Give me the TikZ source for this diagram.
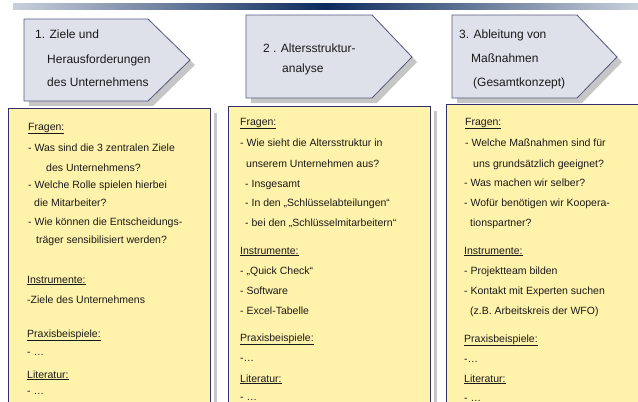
\documentclass[tikz,border=0pt]{standalone}
\usepackage{fontspec}
\setmainfont{Liberation Sans}
\definecolor{barlight}{HTML}{C9D0DC}
\definecolor{bardark}{HTML}{0B2A5C}
\definecolor{phasefill}{HTML}{DEE0EA}
\definecolor{phaseline}{HTML}{58587C}
\definecolor{cardfill}{HTML}{FFF2AA}
\definecolor{cardline}{HTML}{30306C}
\definecolor{shadowgray}{HTML}{C6C6C6}
\definecolor{ink}{HTML}{1A1A1A}
\tikzset{
phase/.style={fill=phasefill, draw=phaseline, line width=0.8pt},
card/.style={fill=cardfill, draw=cardline, line width=0.9pt},
dropshadow/.style={fill=shadowgray},
headtext/.style={anchor=base west, inner sep=0pt, text=ink, font=\fontsize{12}{14}\selectfont},
bodytext/.style={anchor=base west, inner sep=0pt, text=ink, font=\fontsize{10.5}{12}\selectfont},
}

\begin{document}
\begin{tikzpicture}[x=1pt, y=-1pt]
\useasboundingbox (0,0) rectangle (638,402);
\clip (0,0) rectangle (638,402);
% top bar
\shade[left color=barlight, right color=bardark] (13,3) rectangle (326,9);
\shade[left color=bardark, right color=barlight] (325,3) rectangle (638,9);
% phase arrows
\fill[dropshadow] (29,24) -- (153,24) -- (195,65) -- (153,106) -- (29,106) -- cycle;
\fill[dropshadow] (251,20) -- (377,20) -- (417,62) -- (377,103) -- (251,103) -- cycle;
\fill[dropshadow] (457,20) -- (582,20) -- (622,62) -- (582,103) -- (457,103) -- cycle;
\draw[phase] (24,19) -- (148,19) -- (190,60) -- (148,101) -- (24,101) -- cycle;
\draw[phase] (246,15) -- (372,15) -- (412,57) -- (372,98) -- (246,98) -- cycle;
\draw[phase] (452,15) -- (577,15) -- (617,57) -- (577,98) -- (452,98) -- cycle;
% cards
\fill[dropshadow] (214,113) rectangle (217,410);
\fill[dropshadow] (434,111) rectangle (437,410);
\draw[card] (8,108) rectangle (210,410);
\draw[card] (228,106) rectangle (430,410);
\draw[card] (446,104) rectangle (650,410);

% headings
\node[headtext] (h1a) at (35,38) {1. Ziele und};
\node[headtext] (h1b) at (47,63) {Herausforderungen};
\node[headtext] (h1c) at (47,86) {des Unternehmens};
\node[headtext] (h2a) at (263,52) {2 . Altersstruktur-};
\node[headtext] (h2b) at (282,72) {analyse};
\node[headtext] (h3a) at (459,38) {3. Ableitung von};
\node[headtext] (h3b) at (471,62) {Maßnahmen};
\node[headtext] (h3c) at (473,86) {(Gesamtkonzept)};

% card 1
\node[bodytext] (t1a) at (28,130) {\underline{Fragen:}};
\node[bodytext] (t1b) at (28,151) {- Was sind die 3 zentralen Ziele};
\node[bodytext] (t1c) at (46,171) {des Unternehmens?};
\node[bodytext] (t1d) at (28,188) {- Welche Rolle spielen hierbei};
\node[bodytext] (t1e) at (34,206) {die Mitarbeiter?};
\node[bodytext] (t1f) at (28,225) {- Wie können die Entscheidungs-};
\node[bodytext] (t1g) at (36,243) {träger sensibilisiert werden?};
\node[bodytext] (t1h) at (27,283) {\underline{Instrumente:}};
\node[bodytext] (t1i) at (27,303) {-Ziele des Unternehmens};
\node[bodytext] (t1j) at (27,337) {\underline{Praxisbeispiele:}};
\node[bodytext] (t1k) at (27,355) {- …};
\node[bodytext] (t1l) at (27,378) {\underline{Literatur:}};
\node[bodytext] (t1m) at (27,394) {- …};

% card 2
\node[bodytext] (t2a) at (240,125) {\underline{Fragen:}};
\node[bodytext] (t2b) at (240,146) {- Wie sieht die Altersstruktur in};
\node[bodytext] (t2c) at (246,167) {unserem Unternehmen aus?};
\node[bodytext] (t2d) at (245,187) {- Insgesamt};
\node[bodytext] (t2e) at (245,206) {- In den „Schlüsselabteilungen“};
\node[bodytext] (t2f) at (245,226) {- bei den „Schlüsselmitarbeitern“};
\node[bodytext] (t2g) at (240,254) {\underline{Instrumente:}};
\node[bodytext] (t2h) at (240,274) {- „Quick Check“};
\node[bodytext] (t2i) at (240,294) {- Software};
\node[bodytext] (t2j) at (240,314) {- Excel-Tabelle};
\node[bodytext] (t2k) at (240,341) {\underline{Praxisbeispiele:}};
\node[bodytext] (t2l) at (240,361) {-…};
\node[bodytext] (t2m) at (240,382) {\underline{Literatur:}};
\node[bodytext] (t2n) at (240,400) {- …};

% card 3
\node[bodytext] (t3a) at (465,125) {\underline{Fragen:}};
\node[bodytext] (t3b) at (465,146) {- Welche Maßnahmen sind für};
\node[bodytext] (t3c) at (473,167) {uns grundsätzlich geeignet?};
\node[bodytext] (t3d) at (464,186) {- Was machen wir selber?};
\node[bodytext] (t3e) at (464,206) {- Wofür benötigen wir Koopera-};
\node[bodytext] (t3f) at (470,226) {tionspartner?};
\node[bodytext] (t3g) at (464,254) {\underline{Instrumente:}};
\node[bodytext] (t3h) at (464,274) {- Projektteam bilden};
\node[bodytext] (t3i) at (464,294) {- Kontakt mit Experten suchen};
\node[bodytext] (t3j) at (470,314) {(z.B. Arbeitskreis der WFO)};
\node[bodytext] (t3k) at (464,342) {\underline{Praxisbeispiele:}};
\node[bodytext] (t3l) at (464,362) {-…};
\node[bodytext] (t3m) at (464,382) {\underline{Literatur:}};
\node[bodytext] (t3n) at (464,401) {- …};
\end{tikzpicture}
\end{document}
